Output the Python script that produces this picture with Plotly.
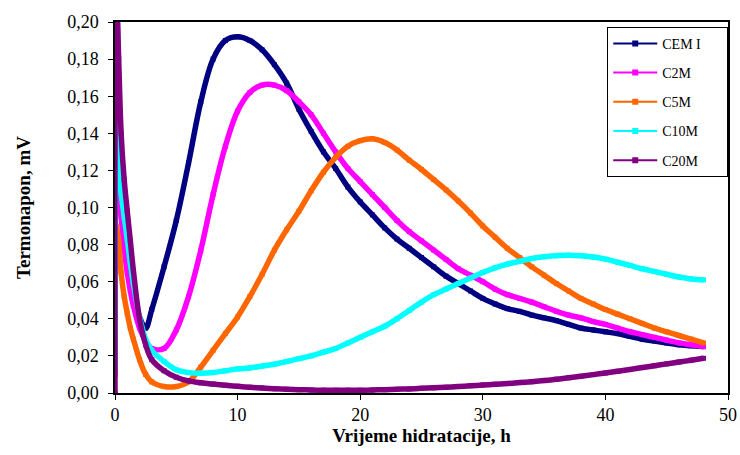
import plotly.graph_objects as go

t = [0, 0.1, 0.2, 0.3, 0.5, 0.75, 1, 1.25, 1.5, 2, 2.5,
     3, 4, 5, 6, 7, 8, 9, 10, 11, 12, 13, 14, 15, 16, 17, 18, 19, 20, 21, 22, 23, 24, 25,
     26, 27, 28, 29, 30, 31, 32, 33, 34, 35, 36, 37, 38, 39, 40, 41, 42, 43, 44, 45, 46, 47, 48]

cem_i = [0.015, 0.22, 0.20, 0.15, 0.11, 0.085, 0.07, 0.06, 0.052, 0.041, 0.035,
         0.045, 0.068, 0.093, 0.124, 0.157, 0.180, 0.190, 0.192, 0.190, 0.185, 0.177, 0.167, 0.153,
         0.141, 0.130, 0.121, 0.111, 0.103, 0.096, 0.089, 0.083, 0.078, 0.073, 0.068, 0.063, 0.059,
         0.055, 0.051, 0.048, 0.0455, 0.044, 0.042, 0.0405, 0.039, 0.037, 0.035, 0.034, 0.033, 0.032,
         0.0305, 0.029, 0.028, 0.027, 0.026, 0.0255, 0.025]
c2m = [0.010, 0.12, 0.115, 0.108, 0.095, 0.078, 0.065, 0.055, 0.047, 0.035, 0.028,
       0.024, 0.024, 0.034, 0.052, 0.077, 0.107, 0.133, 0.152, 0.162, 0.166, 0.166, 0.163, 0.157,
       0.150, 0.140, 0.130, 0.121, 0.114, 0.107, 0.100, 0.093, 0.087, 0.082, 0.077, 0.072, 0.067,
       0.0635, 0.060, 0.056, 0.053, 0.051, 0.049, 0.0465, 0.044, 0.042, 0.0405, 0.0385, 0.037, 0.035,
       0.033, 0.0315, 0.030, 0.0285, 0.027, 0.026, 0.025]
c5m = [0.010, 0.090, 0.086, 0.082, 0.065, 0.052, 0.043, 0.035, 0.029, 0.018, 0.010,
       0.006, 0.0035, 0.0035, 0.006, 0.014, 0.023, 0.032, 0.041, 0.052, 0.064, 0.077, 0.088, 0.098,
       0.109, 0.119, 0.127, 0.133, 0.136, 0.137, 0.135, 0.131, 0.1255, 0.1205, 0.115, 0.1095, 0.1035,
       0.097, 0.090, 0.084, 0.078, 0.073, 0.068, 0.0635, 0.059, 0.055, 0.051, 0.048, 0.045, 0.0425,
       0.040, 0.0375, 0.035, 0.033, 0.031, 0.029, 0.027]
c10m = [0.013, 0.21, 0.14, 0.125, 0.108, 0.095, 0.083, 0.070, 0.059, 0.041, 0.029,
        0.023, 0.017, 0.0125, 0.011, 0.0107, 0.011, 0.012, 0.013, 0.0135, 0.0145, 0.0155, 0.017, 0.0185,
        0.020, 0.022, 0.024, 0.027, 0.030, 0.033, 0.036, 0.040, 0.0445, 0.049, 0.053, 0.056, 0.059,
        0.062, 0.065, 0.0675, 0.0695, 0.071, 0.0725, 0.0735, 0.074, 0.0743, 0.074, 0.0733, 0.0722, 0.0705,
        0.0688, 0.067, 0.0655, 0.064, 0.0625, 0.0615, 0.061]
c20m = [0.0, 0.21, 0.20, 0.18, 0.14, 0.115, 0.098, 0.082, 0.066, 0.040, 0.026,
        0.018, 0.012, 0.0085, 0.0065, 0.0055, 0.0048, 0.0042, 0.0036, 0.0031, 0.0027, 0.0023, 0.002, 0.0018,
        0.0016, 0.0015, 0.0015, 0.0015, 0.0015, 0.0016, 0.0018, 0.002, 0.0022, 0.0025, 0.0028, 0.0031, 0.0035,
        0.0039, 0.0043, 0.0047, 0.0051, 0.0056, 0.0061, 0.0067, 0.0074, 0.0082, 0.009, 0.0099, 0.0108, 0.0117,
        0.0127, 0.0137, 0.0147, 0.0157, 0.0167, 0.0177, 0.0187]

names = ["CEM I", "C2M", "C5M", "C10M", "C20M"]
series = [cem_i, c2m, c5m, c10m, c20m]
colors = ["#000080", "#FF00FF", "#FF6600", "#00FFFF", "#800080"]

fig = go.Figure()
for n, s, c in zip(names, series, colors):
    fig.add_trace(go.Scatter(
        x=t, y=s, name=n, mode="lines+markers", showlegend=False,
        line=dict(color=c, width=5.5, shape="spline", smoothing=1.0),
        marker=dict(symbol="square", size=5, color=c),
    ))
# legend-only entries (thin line with a square marker, as in the original legend)
pad = "\u00a0" * 6
for n, c in zip(names, colors):
    fig.add_trace(go.Scatter(
        x=[None], y=[None], name=n + pad, mode="lines+markers", legendgroup=n,
        line=dict(color=c, width=2), marker=dict(symbol="square", size=6, color=c),
    ))

font = "Liberation Serif, Times New Roman, serif"
fig.update_layout(
    width=740, height=455,
    margin=dict(l=115, r=12, t=22, b=62, autoexpand=False),
    paper_bgcolor="white", plot_bgcolor="white",
    separators=",.",
    font=dict(family=font, size=18, color="black"),
    showlegend=True,
    legend=dict(
        x=0.803, y=0.987, xanchor="left", yanchor="top",
        bgcolor="white", bordercolor="black", borderwidth=1,
        font=dict(family=font, size=14, color="black"),
        tracegroupgap=8, itemwidth=44,
    ),
    xaxis=dict(
        range=[0, 50], tickvals=[0, 10, 20, 30, 40, 50], automargin=False,
        showgrid=False, zeroline=False, showline=True, linecolor="black", linewidth=1.5,
        mirror=True, ticks="outside", ticklen=5, tickcolor="black", ticklabelstandoff=0,
        title=dict(text="<b>Vrijeme hidratacije, h</b>", font=dict(family=font, size=19), standoff=3),
        tickfont=dict(family=font, size=18),
    ),
    yaxis=dict(
        range=[0, 0.2], tickvals=[0, 0.02, 0.04, 0.06, 0.08, 0.10, 0.12, 0.14, 0.16, 0.18, 0.20],
        tickformat=".2f", automargin=False,
        showgrid=False, zeroline=False, showline=True, linecolor="black", linewidth=1.5,
        mirror=True, ticks="outside", ticklen=5, tickcolor="black", ticklabelstandoff=6,
        title=dict(text="<b>Termonapon, mV</b>", font=dict(family=font, size=19), standoff=32),
        tickfont=dict(family=font, size=18),
    ),
)

fig.write_html(
    "out.html",
    config={"displayModeBar": False},
    post_script="document.body.style.margin='0';document.body.style.overflow='hidden';",
)
